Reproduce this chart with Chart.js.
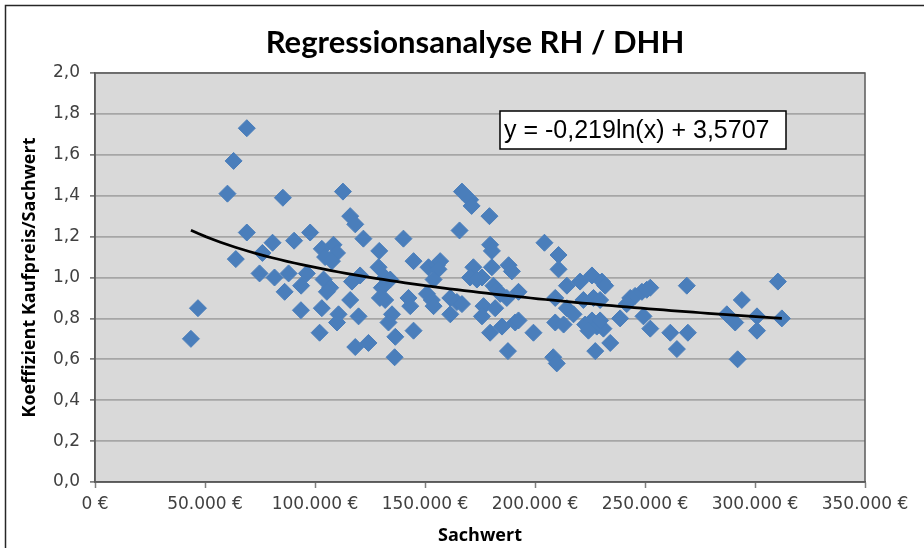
<!DOCTYPE html>
<html>
<head>
<meta charset="utf-8">
<script src="https://cdn.jsdelivr.net/npm/chart.js@4.4.1/dist/chart.umd.min.js"></script>
<style>
  html, body { margin: 0; padding: 0; background: #fff; }
  #wrap { position: relative; width: 924px; height: 548px; }
</style>
</head>
<body>
<div id="wrap"><canvas id="myChart" width="924" height="548"></canvas></div>
<script>
// Sachwert in Euro, one entry per sale
var sachwert = [
  43600, 46800, 60200, 63000, 64000, 69000, 69000, 74800, 76100, 80700,
  81600, 85400, 86200, 88000, 90500, 93600, 93700, 96300, 97800, 102100,
  103100, 103100, 108400, 110000, 104600, 107700, 103900, 106900, 105400, 110700,
  110000, 112700, 116000, 118300, 122000, 116800, 120500, 116000, 119800, 118300,
  124300, 129200, 128900, 131900, 134200, 130400, 129500, 131900, 135000, 133400,
  136500, 136200, 140200, 144800, 142500, 143300, 144800, 151600, 155400, 156900,
  156100, 153900, 150900, 153100, 153900, 161500, 164500, 166800, 161500, 166800,
  170500, 171200, 165700, 179300, 179600, 180400, 172000, 170500, 175900, 180400,
  188000, 189500, 181100, 182700, 187200, 192500, 176600, 175900, 181900, 185000,
  191000, 192500, 179600, 199300, 187700, 204300, 210700, 210700, 209200, 214500,
  209200, 213000, 208300, 209900, 220500, 225900, 230400, 231900, 222000, 226600,
  229600, 214500, 217500, 222800, 225900, 228100, 231100, 224300, 229600, 227400,
  234200, 238700, 243300, 245500, 248600, 252400, 250800, 241700, 249300, 252400,
  261500, 269500, 264500, 269000, 294000, 287200, 291000, 300900, 300900, 310400,
  312200, 292100, 173600, 184200
];
// Koeffizient Kaufpreis/Sachwert, same order
var koeffizient = [
  0.70, 0.85, 1.41, 1.57, 1.09, 1.73, 1.22, 1.02, 1.12, 1.17,
  1.00, 1.39, 0.93, 1.02, 1.18, 0.84, 0.96, 1.02, 1.22, 0.73,
  0.85, 1.14, 1.16, 1.12, 1.10, 1.08, 0.99, 0.95, 0.93, 0.82,
  0.78, 1.42, 1.30, 1.26, 1.19, 0.98, 1.01, 0.89, 0.81, 0.66,
  0.68, 1.13, 1.05, 1.00, 0.99, 0.95, 0.90, 0.89, 0.82, 0.78,
  0.71, 0.61, 1.19, 1.08, 0.90, 0.86, 0.74, 1.05, 1.06, 1.08,
  1.04, 0.99, 0.92, 0.89, 0.86, 0.90, 0.88, 0.87, 0.82, 1.42,
  1.38, 1.35, 1.23, 1.30, 1.16, 1.13, 1.05, 1.00, 1.00, 1.05,
  1.06, 1.03, 0.96, 0.94, 0.90, 0.93, 0.86, 0.81, 0.85, 0.76,
  0.78, 0.79, 0.73, 0.73, 0.64, 1.17, 1.11, 1.04, 0.90, 0.96,
  0.78, 0.77, 0.61, 0.58, 0.98, 1.01, 0.98, 0.96, 0.89, 0.90,
  0.89, 0.85, 0.82, 0.77, 0.79, 0.76, 0.75, 0.74, 0.79, 0.64,
  0.68, 0.80, 0.90, 0.91, 0.93, 0.95, 0.94, 0.87, 0.81, 0.75,
  0.73, 0.73, 0.65, 0.96, 0.89, 0.82, 0.78, 0.81, 0.74, 0.98,
  0.80, 0.60, 0.99, 0.92
];

// logarithmic trend line as printed in the chart
var trendA = -0.219;
var trendB = 3.5707;
var trendLabel = "y = -0,219ln(x) + 3,5707";

var chartTitle = "Regressionsanalyse RH / DHH";
var xTitle = "Sachwert";
var yTitle = "Koeffizient Kaufpreis/Sachwert";

var points = sachwert.map(function (v, i) { return { x: v, y: koeffizient[i] }; });

var xMin = Math.min.apply(null, sachwert);
var xMax = Math.max.apply(null, sachwert);
var trend = [];
for (var k = 0; k <= 80; k++) {
  var xv = xMin + (xMax - xMin) * k / 80;
  trend.push({ x: xv, y: trendA * Math.log(xv) + trendB });
}

function euro(v) {
  return String(v).replace(/\B(?=(\d{3})+(?!\d))/g, ".") + " €";
}

var decor = {
  id: "decor",
  beforeDraw: function (chart) {
    var ctx = chart.ctx, a = chart.chartArea;
    ctx.save();
    ctx.fillStyle = "#ffffff";
    ctx.fillRect(0, 0, chart.width, chart.height);
    ctx.fillStyle = "#d9d9d9";
    ctx.fillRect(a.left, a.top, a.right - a.left, a.bottom - a.top);
    ctx.restore();
  },
  afterDraw: function (chart) {
    var ctx = chart.ctx, a = chart.chartArea;
    ctx.save();
    // plot frame
    ctx.strokeStyle = "#5a5a5a";
    ctx.lineWidth = 1.5;
    ctx.strokeRect(a.left, a.top, a.right - a.left, a.bottom - a.top);
    // outer chart border (only top and left are inside the picture)
    ctx.strokeStyle = "#262626";
    ctx.lineWidth = 1.5;
    ctx.beginPath();
    ctx.moveTo(5.5, chart.height);
    ctx.lineTo(5.5, 5.5);
    ctx.lineTo(chart.width, 5.5);
    ctx.stroke();
    // title
    ctx.fillStyle = "#000";
    ctx.font = "bold 31px Lato";
    ctx.textAlign = "center";
    ctx.textBaseline = "middle";
    ctx.fillText(chartTitle, 475, 43);
    // equation box
    ctx.fillStyle = "#fff";
    ctx.fillRect(500, 111, 286, 38);
    ctx.strokeStyle = "#000";
    ctx.lineWidth = 1.5;
    ctx.strokeRect(500, 111, 286, 38);
    ctx.fillStyle = "#000";
    ctx.font = "25px 'Liberation Sans'";
    ctx.textAlign = "left";
    ctx.fillText(trendLabel, 504, 131);
    ctx.restore();
  }
};

var ctx = document.getElementById("myChart");
var myChart = new Chart(ctx, {
  type: "scatter",
  data: {
    datasets: [
      {
        label: "Trend",
        data: trend,
        showLine: true,
        borderColor: "#000",
        borderWidth: 2.75,
        pointRadius: 0,
        tension: 0
      },
      {
        label: "Koeffizient",
        data: points,
        pointStyle: "rectRot",
        pointRadius: 8.5,
        pointBackgroundColor: "#4a7ebb",
        pointBorderColor: "#4a7ebb",
        pointBorderWidth: 1
      }
    ]
  },
  options: {
    responsive: false,
    animation: false,
    devicePixelRatio: 1,
    layout: { padding: { top: 73, right: 59, bottom: 0, left: 0 } },
    plugins: { legend: { display: false }, tooltip: { enabled: false } },
    scales: {
      x: {
        type: "linear",
        min: 0,
        max: 350000,
        afterFit: function (s) { s.height = 66; },
        ticks: {
          stepSize: 50000,
          padding: 6,
          color: "#404040",
          font: { family: "'DejaVu Sans'", size: 17 },
          maxRotation: 0,
          autoSkip: false,
          callback: function (v) { return euro(v); }
        },
        grid: { drawOnChartArea: false, tickLength: 6, tickColor: "#7f7f7f", tickWidth: 1.5 },
        border: { color: "#5a5a5a", width: 1.5 },
        title: {
          display: true,
          text: xTitle,
          color: "#000",
          font: { family: "'Open Sans'", size: 18, weight: "bold" },
          padding: { top: 0, bottom: 1 }
        }
      },
      y: {
        min: 0,
        max: 2,
        afterFit: function (s) { s.width = 95; },
        ticks: {
          stepSize: 0.2,
          padding: 10,
          color: "#404040",
          font: { family: "'DejaVu Sans'", size: 17 },
          callback: function (v) { return v.toFixed(1).replace(".", ","); }
        },
        grid: { color: "#a6a6a6", lineWidth: 1.75, tickLength: 5, tickColor: "#7f7f7f" },
        border: { color: "#5a5a5a", width: 1.5 },
        title: {
          display: true,
          text: yTitle,
          color: "#000",
          font: { family: "'Open Sans'", size: 18, weight: "bold" },
          padding: { top: 19, bottom: 0 }
        }
      }
    }
  },
  plugins: [decor]
});
</script>
</body>
</html>
